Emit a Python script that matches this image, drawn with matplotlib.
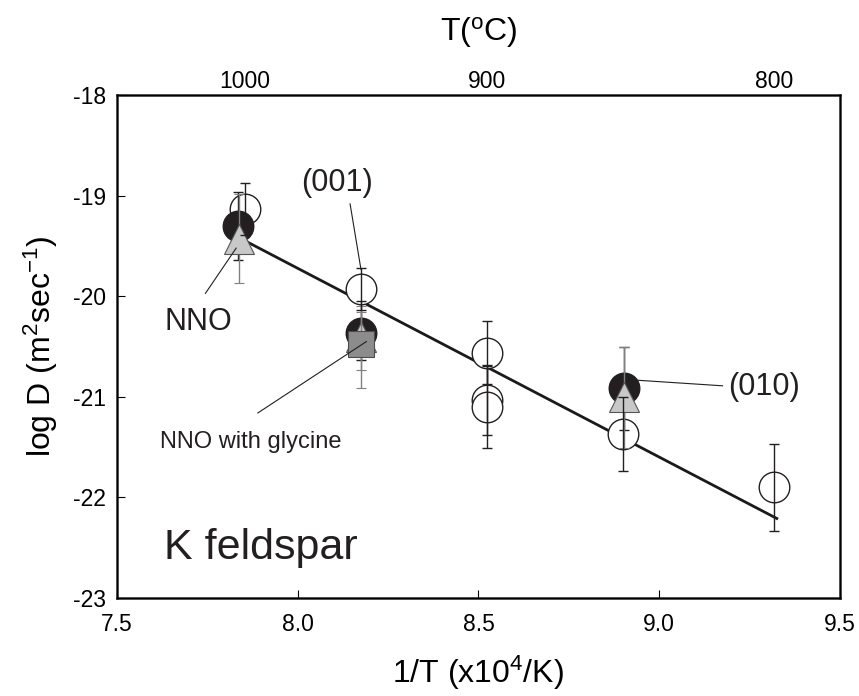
import matplotlib
matplotlib.use("Agg")
import matplotlib.pyplot as plt

plt.rcParams["font.family"] = ["Liberation Sans", "DejaVu Sans"]
plt.rcParams["mathtext.fontset"] = "custom"
plt.rcParams["mathtext.rm"] = "Liberation Sans"
plt.rcParams["mathtext.default"] = "regular"

# open circles (all orientations)
open_x = [7.855, 8.176, 8.524, 8.524, 8.524, 8.899, 9.318]
open_y = [-19.13, -19.93, -20.56, -21.03, -21.10, -21.37, -21.90]
open_err = [0.26, 0.21, 0.31, 0.35, 0.41, 0.37, 0.43]

# black circles, NNO
black_x = [7.835, 8.176, 8.903]
black_y = [-19.30, -20.36, -20.91]
black_lo = [0.34, 0.27, 0.42]
black_hi = [0.34, 0.31, 0.41]

# grey triangles
tri_x = [7.838, 8.176, 8.903]
tri_y = [-19.43, -20.40, -21.00]
tri_lo = [0.44, 0.33, 0.51]
tri_hi = [0.45, 0.30, 0.50]

# NNO with glycine (square)
sq_x = [8.176]
sq_y = [-20.47]
sq_lo = [0.44]
sq_hi = [0.31]

# fitted line
fit_x = [7.84, 9.325]
fit_y = [-19.42, -22.21]

top_temps = [1000, 900, 800]

fig = plt.figure(figsize=(8.59, 6.96), dpi=100)
ax = fig.add_axes([0.136, 0.141, 0.842, 0.722])

ax.plot(fit_x, fit_y, color="#1a1a1a", lw=2.0, zorder=2)

ax.plot(open_x, open_y, "o", ms=22, mfc="white", mec="#231f20", mew=1.0, zorder=3)
ax.errorbar(open_x, open_y, yerr=open_err, fmt="none", ecolor="#231f20",
            elinewidth=1.0, capsize=3.8, capthick=1.0, zorder=6)

ax.errorbar(black_x, black_y, yerr=[black_lo, black_hi], fmt="o", ms=22,
            mfc="#231f20", mec="#231f20", ecolor="#231f20", elinewidth=1.0,
            capsize=3.8, capthick=1.0, zorder=4)

ax.errorbar(tri_x, tri_y, yerr=[tri_lo, tri_hi], fmt="^", ms=21,
            mfc="#c8c8c8", mec="#555555", mew=0.8, ecolor="#808080",
            elinewidth=1.0, capsize=3.8, capthick=1.0, zorder=5)

ax.errorbar(sq_x, sq_y, yerr=[sq_lo, sq_hi], fmt="s", ms=19,
            mfc="#8c8c8c", mec="#4d4d4d", mew=0.8, ecolor="#808080",
            elinewidth=1.0, capsize=3.8, capthick=1.0, zorder=5.5)

ax.set_xlim(7.5, 9.5)
ax.set_ylim(-23, -18)
ax.set_xticks([7.5, 8.0, 8.5, 9.0, 9.5])
ax.set_xticklabels(["7.5", "8.0", "8.5", "9.0", "9.5"])
ax.set_yticks([-23, -22, -21, -20, -19, -18])
ax.set_yticklabels(["-23", "-22", "-21", "-20", "-19", "-18"])
ax.tick_params(direction="in", length=6, width=0.8, labelsize=16.5)
ax.tick_params(axis="x", pad=11)
ax.tick_params(axis="y", pad=8)
for s in ax.spines.values():
    s.set_linewidth(1.8)
    s.set_color("#231f20")

ax.set_xlabel("1/T (x10$^{4}$/K)", fontsize=23, labelpad=13)
ax.set_ylabel("log D (m$^{2}$sec$^{-1}$)", fontsize=23, labelpad=9)

top = ax.twiny()
top.set_xlim(ax.get_xlim())
top.set_xticks([1e4 / (t + 273.15) for t in top_temps])
top.set_xticklabels([str(t) for t in top_temps])
top.tick_params(length=0, labelsize=16.5, pad=2)
top.set_xlabel("T($^{o}$C)", fontsize=23, labelpad=21)

txt_kw = dict(color="#231f20")
ax.text(7.725, -20.26, "NNO", fontsize=22, ha="center", va="center", **txt_kw)
ax.plot([7.745, 7.83], [-19.97, -19.52], color="#231f20", lw=0.8, zorder=7)

ax.text(8.11, -18.87, "(001)", fontsize=22, ha="center", va="center", **txt_kw)
ax.plot([8.145, 8.175], [-19.08, -19.73], color="#231f20", lw=0.8, zorder=7)

ax.text(7.87, -21.45, "NNO with glycine", fontsize=17, ha="center", va="center", **txt_kw)
ax.plot([7.89, 8.19], [-21.16, -20.45], color="#231f20", lw=0.8, zorder=7)

ax.text(9.29, -20.9, "(010)", fontsize=22, ha="center", va="center", **txt_kw)
ax.plot([9.175, 8.92], [-20.89, -20.83], color="#231f20", lw=0.8, zorder=7)

ax.text(7.63, -22.5, "K feldspar", fontsize=31, ha="left", va="center", **txt_kw)

fig.savefig("out.png", dpi=100)
